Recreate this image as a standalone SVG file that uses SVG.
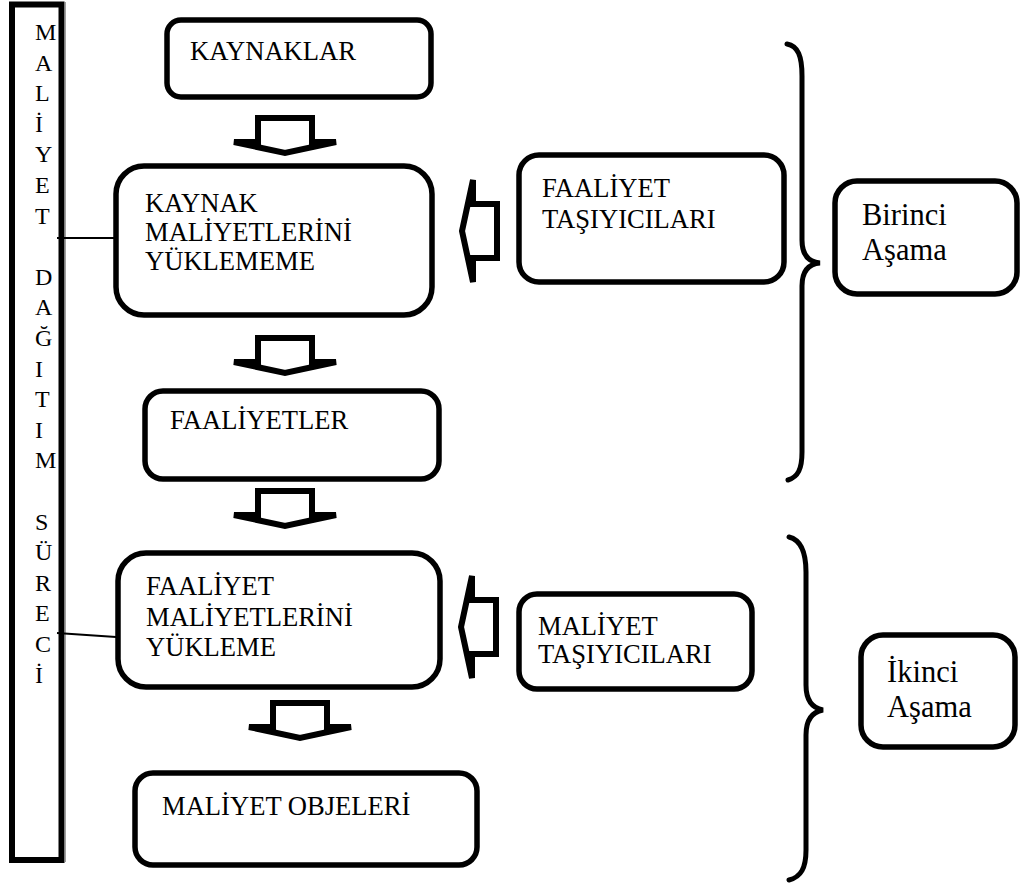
<svg xmlns="http://www.w3.org/2000/svg" xmlns:xlink="http://www.w3.org/1999/xlink" width="1022" height="884" viewBox="0 0 1022 884">
  <style>
    .box { fill: #ffffff; stroke: #000000; stroke-width: 5.5; }
    .lbl { font-family: "Liberation Serif", "Times New Roman", serif; font-size: 26.6px; fill: #000000; }
    .stage { font-family: "Liberation Serif", "Times New Roman", serif; font-size: 30.5px; fill: #000000; }
    .side { font-family: "Liberation Serif", "Times New Roman", serif; font-size: 24px; fill: #000000; }
    .blk { fill: #ffffff; stroke: #000000; stroke-width: 6; stroke-linejoin: miter; stroke-miterlimit: 2; }
    .brace { fill: none; stroke: #000000; stroke-width: 5; stroke-linecap: round; }
    .link { stroke: #000000; stroke-width: 2; fill: none; }
  </style>
  <defs>
    <!-- block arrow, origin at centre of the stem top, pointing down -->
    <path id="blockArrow" class="blk" d="M-27,0 L27,0 L27,24 L51,24 L0,35 L-51,24 L-27,24 Z"/>
  </defs>

  <rect width="1022" height="884" fill="#ffffff"/>

  <!-- vertical process column -->
  <g id="process-column">
    <line x1="65.5" y1="2" x2="65.5" y2="862" stroke="#a0a0a0" stroke-width="1"/>
    <rect x="12" y="4.5" width="49.5" height="855.5" fill="none" stroke="#000000" stroke-width="6"/>
    <text class="side">
      <tspan x="35" y="40">M</tspan>
      <tspan x="35" y="70.6">A</tspan>
      <tspan x="35" y="101.2">L</tspan>
      <tspan x="35" y="131.8">İ</tspan>
      <tspan x="35" y="162.4">Y</tspan>
      <tspan x="35" y="193">E</tspan>
      <tspan x="35" y="223.6">T</tspan>
      <tspan x="35" y="284.8">D</tspan>
      <tspan x="35" y="315.4">A</tspan>
      <tspan x="35" y="346">Ğ</tspan>
      <tspan x="35" y="376.6">I</tspan>
      <tspan x="35" y="407.2">T</tspan>
      <tspan x="35" y="437.8">I</tspan>
      <tspan x="35" y="468.4">M</tspan>
      <tspan x="35" y="529.6">S</tspan>
      <tspan x="35" y="560.2">Ü</tspan>
      <tspan x="35" y="590.8">R</tspan>
      <tspan x="35" y="621.4">E</tspan>
      <tspan x="35" y="652">C</tspan>
      <tspan x="35" y="682.6">İ</tspan>
    </text>
  </g>

  <g id="kaynaklar">
    <rect class="box" x="167" y="20" width="264" height="77" rx="14"/>
    <text class="lbl" x="190" y="60">KAYNAKLAR</text>
  </g>

  <g id="kaynak-maliyetleri">
    <rect class="box" x="116" y="166" width="316" height="149" rx="28"/>
    <text class="lbl">
      <tspan x="145" y="212">KAYNAK</tspan>
      <tspan x="145" y="241">MALİYETLERİNİ</tspan>
      <tspan x="145" y="270">YÜKLEMEME</tspan>
    </text>
  </g>

  <g id="faaliyetler">
    <rect class="box" x="145" y="391" width="294" height="88" rx="18"/>
    <text class="lbl" x="170" y="429">FAALİYETLER</text>
  </g>

  <g id="faaliyet-maliyetleri">
    <rect class="box" x="118" y="553" width="322" height="134" rx="28"/>
    <text class="lbl">
      <tspan x="146" y="595">FAALİYET</tspan>
      <tspan x="146" y="625.5">MALİYETLERİNİ</tspan>
      <tspan x="146" y="656">YÜKLEME</tspan>
    </text>
  </g>

  <g id="maliyet-objeleri">
    <rect class="box" x="135" y="773" width="342" height="92" rx="18"/>
    <text class="lbl" x="162" y="815">MALİYET OBJELERİ</text>
  </g>

  <g id="faaliyet-tasiyicilari">
    <rect class="box" x="519" y="155" width="265" height="127" rx="20"/>
    <text class="lbl">
      <tspan x="542" y="197">FAALİYET</tspan>
      <tspan x="542" y="228">TAŞIYICILARI</tspan>
    </text>
  </g>

  <g id="maliyet-tasiyicilari">
    <rect class="box" x="519" y="594" width="233" height="95" rx="18"/>
    <text class="lbl">
      <tspan x="538" y="635">MALİYET</tspan>
      <tspan x="538" y="663">TAŞIYICILARI</tspan>
    </text>
  </g>

  <g id="birinci-asama">
    <rect class="box" x="835" y="181" width="182" height="113" rx="22"/>
    <text class="stage">
      <tspan x="862" y="225">Birinci</tspan>
      <tspan x="862" y="260">Aşama</tspan>
    </text>
  </g>

  <g id="ikinci-asama">
    <rect class="box" x="861" y="635" width="154" height="112" rx="22"/>
    <text class="stage">
      <tspan x="887" y="682">İkinci</tspan>
      <tspan x="887" y="717">Aşama</tspan>
    </text>
  </g>

  <!-- connectors: block arrows, braces and ties to the process column -->
  <g id="connectors">
    <use xlink:href="#blockArrow" href="#blockArrow" transform="translate(285,118)"/>
    <use xlink:href="#blockArrow" href="#blockArrow" transform="translate(285,338)"/>
    <use xlink:href="#blockArrow" href="#blockArrow" transform="translate(285,491)"/>
    <use xlink:href="#blockArrow" href="#blockArrow" transform="translate(300,703)"/>
    <use xlink:href="#blockArrow" href="#blockArrow" transform="translate(497,231) rotate(90)"/>
    <use xlink:href="#blockArrow" href="#blockArrow" transform="translate(496,627) rotate(90)"/>

    <path class="brace" d="M787,44 C798,46 802,56 802,76 L802,240 C802,254 808,262 820,263 C808,264 802,272 802,286 L802,452 C802,469 798,477 788,480"/>
    <path class="brace" d="M789,537 C801,540 806,552 806,572 L806,685 C806,700 812,708 823,710 C812,712 806,720 806,735 L806,850 C806,868 801,877 789,880"/>

    <line class="link" x1="57" y1="238" x2="114" y2="238"/>
    <line class="link" x1="57" y1="633" x2="116" y2="637"/>
  </g>
</svg>
